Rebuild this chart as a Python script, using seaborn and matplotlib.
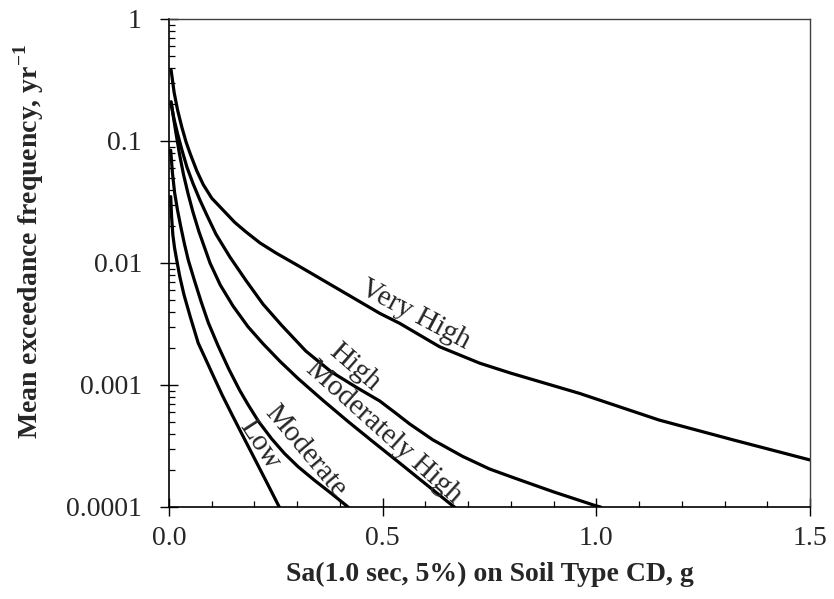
import numpy as np
import pandas as pd
import matplotlib
matplotlib.use("Agg")
import matplotlib.pyplot as plt
import matplotlib.ticker as mticker
import seaborn as sns

# values (Sa in g, frequency in 1/yr)
low_x = [0.004, 0.006, 0.009, 0.013, 0.018, 0.025, 0.035, 0.050, 0.0685, 0.085, 0.105, 0.125, 0.1465,
         0.170, 0.200, 0.230, 0.258]
low_y = [0.035, 0.024, 0.017, 0.0133, 0.0106, 0.0078, 0.0055, 0.0036, 0.0022, 0.00165, 0.00116, 0.00082,
         0.00058, 0.00040, 0.00025, 0.000156, 0.0001]

mod_x = [0.004, 0.008, 0.013, 0.020, 0.028, 0.036, 0.045, 0.060, 0.075, 0.092, 0.115, 0.140, 0.165,
         0.185, 0.210, 0.240, 0.270, 0.302, 0.340, 0.380, 0.419]
mod_y = [0.084, 0.055, 0.038, 0.027, 0.0195, 0.0144, 0.0106, 0.0071, 0.00484, 0.00324, 0.00209, 0.00135,
         0.00091, 0.00069, 0.0005, 0.000363, 0.000275, 0.000214, 0.000166, 0.000129, 0.0001]

modhigh_x = [0.005, 0.010, 0.016, 0.024, 0.034, 0.045, 0.056, 0.070, 0.096, 0.120, 0.150, 0.185, 0.220,
             0.260, 0.302, 0.360, 0.419, 0.480, 0.540, 0.600, 0.657, 0.668]
modhigh_y = [0.21, 0.16, 0.118, 0.080, 0.053, 0.0365, 0.0262, 0.0181, 0.0100, 0.0066, 0.00443, 0.0030,
             0.00218, 0.00156, 0.00113, 0.00075, 0.000502, 0.000337, 0.000229, 0.000155, 0.000107, 0.0001]

high_x = [0.005, 0.012, 0.020, 0.030, 0.042, 0.056, 0.072, 0.089, 0.110, 0.1425, 0.180, 0.220, 0.263,
          0.320, 0.380, 0.440, 0.493, 0.530, 0.563, 0.6175, 0.687, 0.750, 0.804, 0.900, 1.000, 1.010]
high_y = [0.20, 0.15, 0.115, 0.085, 0.061, 0.045, 0.033, 0.0245, 0.0172, 0.0112, 0.0072, 0.0046, 0.0031,
          0.0019, 0.00128, 0.00095, 0.00074, 0.00059, 0.00048, 0.000355, 0.00026, 0.000205, 0.000175,
          0.000133, 0.000102, 0.0001]

vhigh_x = [0.005, 0.012, 0.020, 0.030, 0.040, 0.050, 0.065, 0.080, 0.100, 0.125, 0.154, 0.180, 0.213,
           0.250, 0.307, 0.400, 0.493, 0.540, 0.633, 0.727, 0.800, 0.960, 1.147, 1.320, 1.500]
vhigh_y = [0.38, 0.25, 0.18, 0.13, 0.098, 0.078, 0.057, 0.044, 0.034, 0.0275, 0.0215, 0.018, 0.0146,
           0.0121, 0.0093, 0.0060, 0.00387, 0.0032, 0.00206, 0.00151, 0.00125, 0.000855, 0.000516,
           0.000355, 0.000243]

curve_names = ["Low", "Moderate", "Moderately High", "High", "Very High"]
curve_x = [low_x, mod_x, modhigh_x, high_x, vhigh_x]
curve_y = [low_y, mod_y, modhigh_y, high_y, vhigh_y]

x_ticks = [0.0, 0.5, 1.0, 1.5]
y_ticks = [0.0001, 0.001, 0.01, 0.1, 1]
y_tick_labels = ["0.0001", "0.001", "0.01", "0.1", "1"]

# long table for seaborn
frames = []
for name, xs, ys in zip(curve_names, curve_x, curve_y):
    frames.append(pd.DataFrame({"Sa": xs, "freq": ys, "level": name}))
df = pd.concat(frames, ignore_index=True)

sns.set_style("ticks")
plt.rcParams["font.family"] = ["Liberation Serif", "DejaVu Serif"]
plt.rcParams["mathtext.fontset"] = "custom"
plt.rcParams["mathtext.rm"] = "Liberation Serif"
plt.rcParams["mathtext.bf"] = "Liberation Serif:bold"

fig = plt.figure(figsize=(8.34, 5.99), dpi=100)
ax = fig.add_axes([169 / 834, 1 - 507 / 599, (810 - 169) / 834, (507 - 19) / 599])

sns.lineplot(data=df, x="Sa", y="freq", hue="level", units="level", estimator=None, sort=False,
             palette={n: "black" for n in curve_names}, linewidth=2.3, legend=False, ax=ax)

ax.set_yscale("log")
ax.set_xlim(0, 1.5)
ax.set_ylim(0.0001, 1)

ax.set_xticks(x_ticks)
ax.set_xticklabels([f"{v:.1f}" for v in x_ticks])
ax.xaxis.set_minor_locator(mticker.MultipleLocator(0.1))
ax.set_yticks(y_ticks)
ax.set_yticklabels(y_tick_labels)
ax.yaxis.set_minor_locator(mticker.LogLocator(base=10, subs=np.arange(2, 10)))
ax.yaxis.set_minor_formatter(mticker.NullFormatter())

ax.tick_params(which="major", direction="inout", length=13, width=1.0, labelsize=20, color="black")
ax.tick_params(which="minor", direction="in", length=4.5, width=0.9, color="black")
ax.tick_params(axis="x", which="major", pad=7)
ax.tick_params(axis="y", which="major", pad=13)

for side in ["left", "bottom"]:
    ax.spines[side].set_linewidth(1.2)
    ax.spines[side].set_color("black")
for side in ["top", "right"]:
    ax.spines[side].set_linewidth(1.0)
    ax.spines[side].set_color("#404040")

ax.set_xlabel("Sa(1.0 sec, 5%) on Soil Type CD, g", fontsize=20, fontweight="bold")
ax.set_ylabel(r"Mean exceedance frequency, yr$^{\mathbf{-1}}$", fontsize=20, fontweight="bold")
ax.xaxis.set_label_coords(0.5, -0.113)
ax.yaxis.set_label_coords(-0.192, 0.545)

# curve labels: (x on curve, text angle in degrees, offset from curve in pixels)
label_specs = {
    "Low": (0.19, 57, 11),
    "Moderate": (0.29, 50, 16),
    "Moderately High": (0.48, 42, 14),
    "High": (0.41, 41, 16),
    "Very High": (0.56, 28, 15),
}
for name, xs, ys in zip(curve_names, curve_x, curve_y):
    x_at, ang, dist = label_specs[name]
    y_at = 10 ** np.interp(x_at, xs, np.log10(ys))
    a = np.deg2rad(ang)
    ax.annotate(name, xy=(x_at, y_at), xytext=(dist * np.sin(a), dist * np.cos(a)),
                textcoords="offset pixels", rotation=-ang, rotation_mode="anchor",
                ha="center", va="center", fontsize=21)

fig.savefig("out.png", dpi=100)
